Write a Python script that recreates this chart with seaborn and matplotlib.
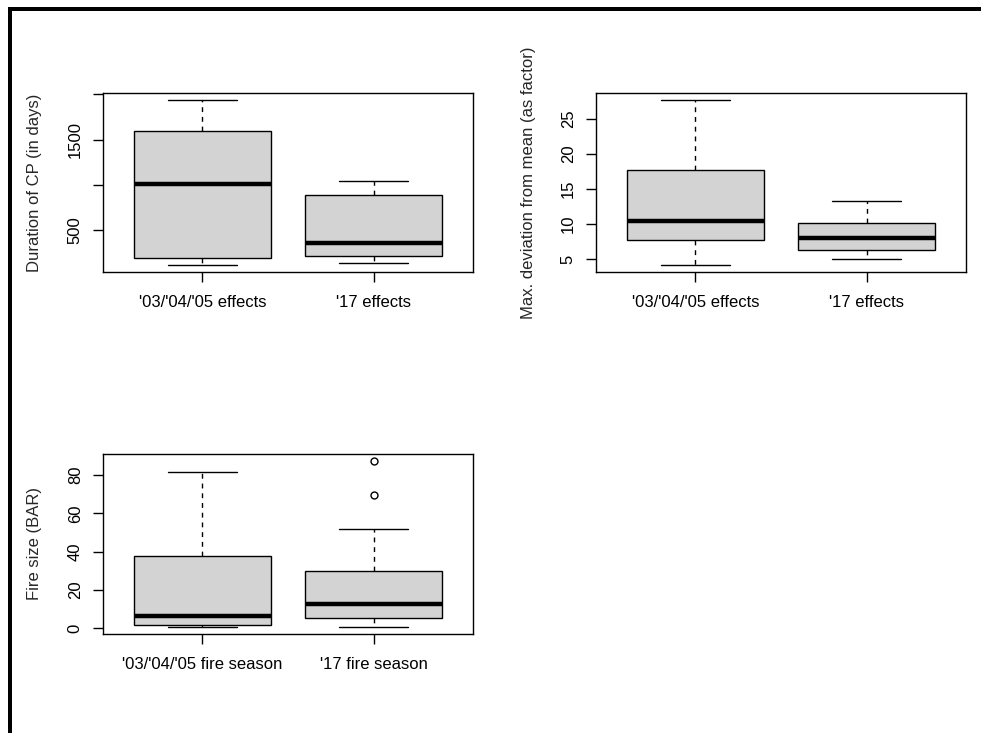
import numpy as np
import pandas as pd
import matplotlib
matplotlib.use("Agg")
import matplotlib.pyplot as plt
from matplotlib.patches import Rectangle
import seaborn as sns

# ---- data (five-number summaries; repeats pin quartiles) ----
dur_groups = ["'03/'04/'05 effects", "'17 effects"]
dur_0305 = [114, 195, 1010, 1591, 1942]
dur_17 = [144, 217, 364, 893, 1048]
dur_ticks = [500, 1000, 1500, 2000]
dur_ticklabels = ["500", "", "1500", ""]

dev_groups = ["'03/'04/'05 effects", "'17 effects"]
dev_0305 = [4.1, 7.67, 10.49, 17.67, 27.77]
dev_17 = [5.0, 6.34, 8.0, 10.14, 13.34]
dev_ticks = [5, 10, 15, 20, 25]

fire_groups = ["'03/'04/'05 fire season", "'17 fire season"]
fire_0305 = [0.35, 1.6, 6.5, 37.6, 81.6]
fire_17 = [0.35, 5.3, 5.3, 5.3, 12.8, 12.8, 12.8, 30.1, 30.1, 30.1, 51.9, 69.7, 87.6]
fire_ticks = [0, 20, 40, 60, 80]

sns.set_style("white")
plt.rcParams["font.family"] = ["Liberation Sans", "DejaVu Sans"]
FS = 12

fig = plt.figure(figsize=(9.81, 7.33), dpi=100)
W, H = 981, 733

def px_axes(l, t, r, b):
    return fig.add_axes([l / W, (H - b) / H, (r - l) / W, (b - t) / H])

ax1 = px_axes(103, 93, 473, 272)
ax2 = px_axes(596, 93, 966, 272)
ax3 = px_axes(103, 454, 473, 634)

def panel(ax, groups, a, b, ylabel, ticks, ticklabels=None):
    df = pd.DataFrame({
        "group": [groups[0]] * len(a) + [groups[1]] * len(b),
        "value": list(a) + list(b),
    })
    sns.boxplot(
        data=df, x="group", y="value", ax=ax, color="#D3D3D3", saturation=1,
        width=0.8, linecolor="black", linewidth=1.0, whis=1.5,
        whiskerprops=dict(linestyle=(0, (3.5, 3.5)), color="black", linewidth=1.0),
        capprops=dict(color="black", linewidth=1.0),
        medianprops=dict(color="black", linewidth=3.2),
        boxprops=dict(edgecolor="black", linewidth=1.0),
        flierprops=dict(marker="o", markerfacecolor="none", markeredgecolor="black",
                        markersize=5, markeredgewidth=1.0),
    )
    vals = np.array(list(a) + list(b))
    lo, hi = vals.min(), vals.max()
    pad = 0.04 * (hi - lo)
    ax.set_ylim(lo - pad, hi + pad)
    ax.set_xlim(-0.58, 1.58)
    ax.set_yticks(ticks)
    ax.set_yticklabels(ticklabels if ticklabels is not None else [str(t) for t in ticks],
                       rotation=90, va="center", fontsize=FS)
    ax.set_xticks([0, 1])
    ax.set_xticklabels(groups, fontsize=FS)
    ax.set_xlabel("")
    ax.set_ylabel(ylabel, fontsize=FS)
    ax.yaxis.set_label_coords(-68 / 370, 0.5)
    ax.yaxis.label.set_verticalalignment("center")
    for s in ax.spines.values():
        s.set_visible(True)
        s.set_color("black")
        s.set_linewidth(1.0)
    ax.tick_params(axis="both", direction="out", length=7.5, width=1.0, color="black",
                   left=True, bottom=True, labelcolor="black")
    ax.tick_params(axis="y", pad=7)
    ax.tick_params(axis="x", pad=9)

panel(ax1, dur_groups, dur_0305, dur_17, "Duration of CP (in days)", dur_ticks, dur_ticklabels)
panel(ax2, dev_groups, dev_0305, dev_17, "Max. deviation from mean (as factor)", dev_ticks)
panel(ax3, fire_groups, fire_0305, fire_17, "Fire size (BAR)", fire_ticks)

# outer black frame lines (top and left only)
fig.add_artist(Rectangle((8 / W, (H - 11) / H), 1 - 8 / W, 4 / H,
                         transform=fig.transFigure, color="black", lw=0))
fig.add_artist(Rectangle((8 / W, 0), 4 / W, (H - 7) / H,
                         transform=fig.transFigure, color="black", lw=0))

fig.savefig("out.png", dpi=100)
